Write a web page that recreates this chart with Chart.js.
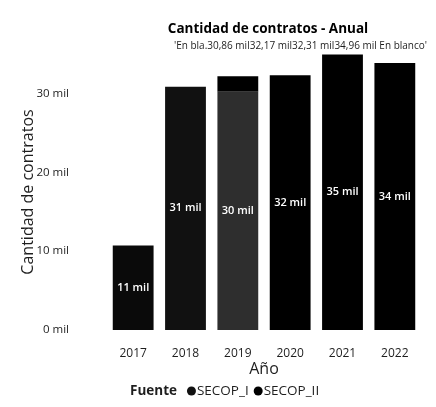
<!DOCTYPE html>
<html><head><meta charset="utf-8">
<script src="https://cdn.jsdelivr.net/npm/chart.js@4"></script>
<style>html,body{margin:0;padding:0;background:#fff}#wrap{width:436px;height:407px;position:relative}</style>
</head><body><div id="wrap"><canvas id="c" width="436" height="407"></canvas></div>
<script>
const years = ['2017', '2018', '2019', '2020', '2021', '2022'];
const secopI = [10700, 30860, 30200, 0, 0, 0];
const secopII = [0, 0, 1970, 32310, 34950, 33850];
const yTickValues = [0, 10000, 20000, 30000];
const chartTitle = 'Cantidad de contratos - Anual';
const totalsNote = "'En bla.30,86 mil32,17 mil32,31 mil34,96 mil En blanco'";
const yTitle = 'Cantidad de contratos';
const xTitle = 'Año';
const legendTitle = 'Fuente';
const seriesNames = ['SECOP_I', 'SECOP_II'];

const FONT = "'Open Sans', 'Noto Sans', sans-serif";
const TXT = '#1e1e1e';
const colI = ['#0a0a0a', '#111111', '#2e2e2e', '#111111', '#111111', '#111111'];
const colII = '#000000';

const overlay = {
  id: 'overlay',
  afterDatasetsDraw(chart) {
    const ctx = chart.ctx;
    ctx.save();
    ctx.fillStyle = '#ffffff';
    ctx.font = '600 11px ' + FONT;
    ctx.textAlign = 'center';
    ctx.textBaseline = 'middle';
    chart.data.datasets.forEach((ds, di) => {
      const meta = chart.getDatasetMeta(di);
      meta.data.forEach((el, i) => {
        const v = ds.data[i];
        if (!v || v < 5000) return;
        const p = el.getProps(['x', 'y', 'base'], true);
        ctx.fillText(Math.round(v / 1000) + ' mil', p.x, (p.y + p.base) / 2);
      });
    });
    ctx.restore();
  },
  afterDraw(chart) {
    const ctx = chart.ctx;
    const ca = chart.chartArea;
    ctx.save();
    ctx.fillStyle = '#000';
    ctx.textBaseline = 'middle';
    ctx.textAlign = 'center';
    ctx.font = 'bold 13.5px ' + FONT;
    ctx.fillText(chartTitle, (ca.left + ca.right) / 2 + 4, 29);
    ctx.textAlign = 'left';
    ctx.font = '10px ' + FONT;
    ctx.fillStyle = TXT;
    ctx.fillText(totalsNote, 174, 46);
    // legend
    let x = 130;
    const y = 391;
    ctx.font = 'bold 13.5px ' + FONT;
    ctx.fillStyle = TXT;
    ctx.fillText(legendTitle, x, y);
    x += ctx.measureText(legendTitle).width + 10;
    ctx.font = '13.5px ' + FONT;
    const cols = ['#111111', colII];
    seriesNames.forEach((n, k) => {
      ctx.fillStyle = cols[k];
      ctx.beginPath();
      ctx.arc(x + 4.5, y, 4.5, 0, Math.PI * 2);
      ctx.fill();
      x += 10;
      ctx.fillStyle = TXT;
      ctx.fillText(n, x, y);
      x += ctx.measureText(n).width + 5;
    });
    ctx.restore();
  }
};

new Chart(document.getElementById('c'), {
  type: 'bar',
  data: {
    labels: years,
    datasets: [
      { label: seriesNames[0], data: secopI, backgroundColor: colI, borderWidth: 0 },
      { label: seriesNames[1], data: secopII, backgroundColor: colII, borderWidth: 0 }
    ]
  },
  options: {
    responsive: false,
    animation: false,
    devicePixelRatio: 1,
    categoryPercentage: 1,
    barPercentage: 0.78,
    layout: { padding: { top: 54, right: 15, bottom: 25, left: 0 } },
    plugins: { legend: { display: false }, tooltip: { enabled: false }, title: { display: false } },
    scales: {
      x: {
        stacked: true,
        grid: { display: false },
        border: { display: false },
        ticks: { color: TXT, font: { family: FONT, size: 12 }, padding: 8 },
        title: { display: true, text: xTitle, color: TXT, font: { family: FONT, size: 16 }, padding: { top: 0, bottom: 3 } },
        afterFit(s) { s.height = 52; }
      },
      y: {
        stacked: true,
        min: 0,
        max: 35000,
        grid: { display: false },
        border: { display: false },
        afterBuildTicks(s) { s.ticks = yTickValues.map(v => ({ value: v })); },
        ticks: { color: TXT, font: { family: FONT, size: 11.5 }, padding: 30, callback: v => (v / 1000) + ' mil' },
        title: { display: true, text: yTitle, color: TXT, font: { family: FONT, size: 16 }, padding: { top: 19, bottom: 0 } },
        afterFit(s) { s.width = 107; }
      }
    }
  },
  plugins: [overlay]
});
</script>
</body></html>
